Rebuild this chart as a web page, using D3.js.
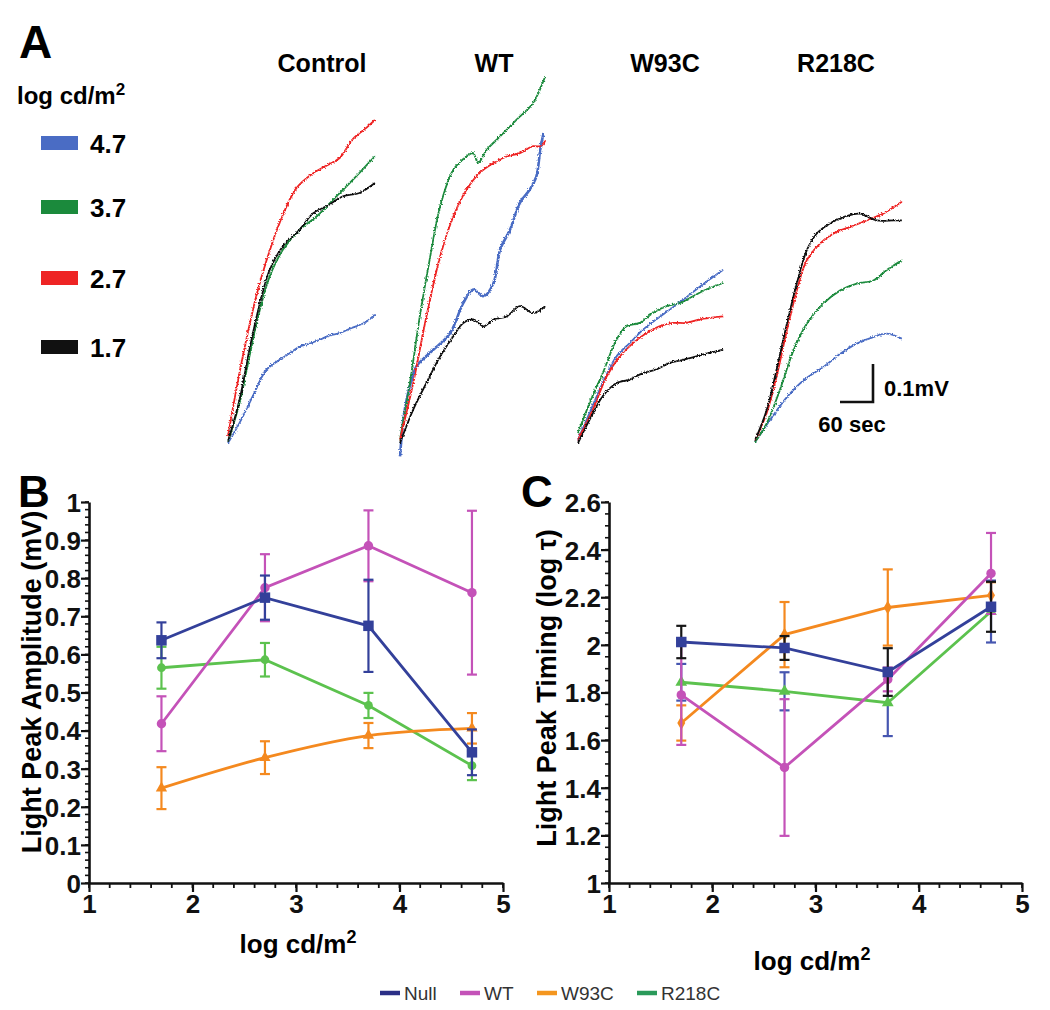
<!DOCTYPE html>
<html><head><meta charset="utf-8">
<script src="https://cdn.jsdelivr.net/npm/d3@7"></script>
<style>
html,body{margin:0;padding:0;background:#fff;}
text{font-family:"Liberation Sans",Arial,Helvetica,sans-serif;}
</style></head>
<body>
<svg id="fig" width="1050" height="1010"></svg>
<script>
// ---------------- DATA ----------------
// Panel A traces: [time (s), amplitude (mV)]
const traceGroups = ["Control", "WT", "W93C", "R218C"];
const intensities = ["4.7", "3.7", "2.7", "1.7"];
const intensityColors = ["#4a6cc4", "#1b8a3c", "#ee2424", "#111111"];

const ctrl47 = [[0,0],[21,.053],[45,.123],[70,.193],[94,.219],[112,.236],[130,.254],[150,.262],[167,.272],[185,.283],[203,.289],[220,.300],[233,.307],[250,.318],[267,.338]];
const ctrl37 = [[0,.004],[21,.105],[39,.228],[58,.351],[76,.439],[100,.509],[130,.561],[161,.596],[191,.640],[215,.675],[239,.711],[267,.754]];
const ctrl27 = [[0,.018],[15,.14],[33,.27],[52,.39],[70,.48],[94,.58],[124,.67],[155,.71],[179,.73],[203,.75],[227,.80],[252,.83],[267,.85]];
const ctrl17 = [[0,.004],[21,.114],[39,.246],[58,.368],[76,.456],[100,.518],[130,.561],[155,.605],[179,.623],[209,.649],[239,.658],[267,.684]];

const wt47 = [[0,-.035],[6,.06],[12,.114],[30,.202],[45,.225],[61,.246],[91,.289],[115,.368],[133,.404],[152,.386],[170,.421],[182,.509],[200,.561],[218,.632],[236,.667],[248,.702],[255,.772],[261,.816]];
const wt37 = [[0,.009],[18,.158],[36,.333],[55,.491],[73,.623],[97,.719],[121,.754],[133,.763],[142,.737],[158,.772],[182,.807],[212,.851],[242,.895],[264,.965]];
const wt27 = [[0,.009],[24,.158],[48,.333],[73,.491],[97,.596],[121,.667],[145,.711],[170,.737],[194,.754],[218,.763],[242,.781],[256,.781],[264,.795]];
const wt17 = [[0,0],[24,.088],[48,.158],[73,.228],[97,.281],[115,.316],[133,.325],[152,.307],[170,.325],[194,.333],[218,.360],[242,.342],[264,.360]];

const w93c47 = [[0,.009],[21,.079],[45,.158],[70,.228],[94,.263],[118,.298],[142,.325],[167,.351],[191,.377],[215,.404],[239,.430],[264,.456]];
const w93c37 = [[0,.026],[21,.105],[45,.184],[70,.272],[88,.307],[112,.316],[136,.342],[161,.360],[185,.368],[209,.386],[233,.404],[264,.421]];
const w93c27 = [[0,.009],[27,.088],[52,.175],[76,.228],[100,.263],[124,.289],[148,.307],[173,.316],[197,.316],[221,.325],[264,.333]];
const w93c17 = [[0,0],[21,.061],[45,.123],[70,.158],[94,.167],[118,.184],[142,.193],[167,.211],[191,.219],[215,.228],[239,.237],[264,.246]];

const r218c47 = [[0,0],[27,.057],[58,.118],[88,.162],[124,.197],[155,.232],[185,.259],[215,.276],[239,.285],[267,.272]];
const r218c37 = [[0,0],[21,.048],[45,.136],[70,.241],[94,.311],[124,.364],[155,.399],[185,.417],[215,.425],[239,.452],[267,.478]];
const r218c27 = [[0,.004],[21,.075],[39,.171],[58,.294],[76,.399],[94,.478],[118,.522],[142,.548],[173,.566],[203,.583],[233,.601],[252,.618],[267,.632]];
const r218c17 = [[0,.004],[21,.083],[39,.189],[58,.311],[76,.417],[94,.504],[112,.548],[136,.575],[161,.592],[191,.601],[221,.583],[252,.583],[267,.583]];

const traces = [
  [ctrl47, ctrl37, ctrl27, ctrl17],
  [wt47, wt37, wt27, wt17],
  [w93c47, w93c37, w93c27, w93c17],
  [r218c47, r218c37, r218c27, r218c17]
];

// Panels B & C
const lux = [1.7, 2.7, 3.7, 4.7];
const genotypes = ["Null", "WT", "W93C", "R218C"];
const genoColors = ["#33409a", "#c452b8", "#f4891f", "#5cc24e"];
const legendColors = ["#2b2f86", "#c452b8", "#f4961f", "#2a9a5a"];

const ampNull = [0.637, 0.749, 0.675, 0.343];
const ampNullErr = [0.047, 0.058, 0.121, 0.060];
const ampWT = [0.418, 0.775, 0.885, 0.762];
const ampWTErr = [0.072, 0.088, 0.093, 0.215];
const ampW93C = [0.249, 0.329, 0.387, 0.406];
const ampW93CErr = [0.055, 0.043, 0.033, 0.040];
const ampR218C = [0.565, 0.586, 0.466, 0.308];
const ampR218CErr = [0.055, 0.044, 0.033, 0.038];

const tauNull = [2.012, 1.987, 1.886, 2.160];
const tauNullErr = [0.068, 0.050, 0.100, 0.105];
const tauWT = [1.790, 1.485, 1.855, 2.300];
const tauWTErr = [0.210, 0.287, 0.050, 0.170];
const tauW93C = [1.672, 2.043, 2.157, 2.208];
const tauW93CErr = [0.074, 0.137, 0.160, 0.055];
const tauR218C = [1.843, 1.805, 1.757, 2.140];
const tauR218CErr = [0.077, 0.080, 0.140, 0.130];

const ampTicks = ["0","0.1","0.2","0.3","0.4","0.5","0.6","0.7","0.8","0.9","1"];
const tauTicks = ["1","1.2","1.4","1.6","1.8","2","2.2","2.4","2.6"];
const xTicks = ["1","2","3","4","5"];

// ---------------- DRAW ----------------
const svg = d3.select("#fig");
const defs = svg.append("defs");
const flt = defs.append("filter").attr("id","jit").attr("x","-5%").attr("y","-5%").attr("width","110%").attr("height","110%");
flt.append("feTurbulence").attr("type","fractalNoise").attr("baseFrequency","0.7").attr("numOctaves",1).attr("seed",3).attr("result","n");
flt.append("feDisplacementMap").attr("in","SourceGraphic").attr("in2","n").attr("scale",3.5).attr("xChannelSelector","R").attr("yChannelSelector","G");

// Panel A
svg.append("text").attr("x",19).attr("y",58).attr("font-size",46).attr("font-weight","bold").text("A");
const lt = svg.append("text").attr("x",17).attr("y",104).attr("font-size",24).attr("font-weight","bold");
lt.append("tspan").text("log cd/m");
lt.append("tspan").attr("dy",-9).attr("font-size",17).text("2");
const swY = [143, 207, 278, 347];
intensities.forEach((lab,i)=>{
  svg.append("rect").attr("x",41).attr("y",swY[i]-7).attr("width",37).attr("height",14).attr("fill",intensityColors[i]);
  svg.append("text").attr("x",90).attr("y",swY[i]+10).attr("font-size",26).attr("font-weight","bold").text(lab);
});

const groupX0 = [228, 400, 578, 755];
const groupBase = [443, 443, 443, 442];
const titleX = [322, 494, 665, 836];
const tScale = d3.scaleLinear().domain([0,270]).range([0,148.5]);
const vScale = d3.scaleLinear().domain([0,1]).range([0,-380]);
const traceLine = d3.line().x(d=>tScale(d[0])).y(d=>vScale(d[1])).curve(d3.curveCatmullRom.alpha(0.5));
traceGroups.forEach((g,gi)=>{
  svg.append("text").attr("x",titleX[gi]).attr("y",72).attr("text-anchor","middle").attr("font-size",25).attr("font-weight","bold").text(g);
  const gg = svg.append("g").attr("transform",`translate(${groupX0[gi]},${groupBase[gi]})`).attr("filter","url(#jit)");
  [0,1,2,3].forEach(k=>{
    gg.append("path").attr("d",traceLine(traces[gi][k])).attr("fill","none")
      .attr("stroke",intensityColors[k]).attr("stroke-width", gi===1 && k===0 ? 2.6 : 1.8)
      .attr("stroke-linejoin","round");
  });
});
// scale bar
const sbV = d3.scaleLinear().domain([0,0.1]).range([402,364]);
const sbT = d3.scaleLinear().domain([0,60]).range([873,840]);
svg.append("path").attr("d",`M${sbT(60)},${sbV(0)}H${sbT(0)}V${sbV(0.1)}`).attr("fill","none").attr("stroke","#111").attr("stroke-width",2.6);
svg.append("text").attr("x",884).attr("y",396).attr("font-size",22).attr("font-weight","bold").text("0.1mV");
svg.append("text").attr("x",852).attr("y",432).attr("text-anchor","middle").attr("font-size",22).attr("font-weight","bold").text("60 sec");

// Generic XY panel
function panel(opt){
  const x = d3.scaleLinear().domain([1,5]).range(opt.xr);
  const y = d3.scaleLinear().domain(opt.yd).range([883,502]);
  const g = svg.append("g");
  const yMinor = d3.range(opt.yd[0], opt.yd[1]+1e-9, opt.yMinorStep);
  g.selectAll(".ym").data(yMinor).join("line")
    .attr("x1",opt.xr[0]).attr("x2",opt.xr[0]-4).attr("y1",d=>y(d)).attr("y2",d=>y(d)).attr("stroke","#111").attr("stroke-width",1.6);
  const xMinor = d3.range(1,5.0001,0.2);
  g.selectAll(".xm").data(xMinor).join("line")
    .attr("y1",883).attr("y2",888).attr("x1",d=>x(d)).attr("x2",d=>x(d)).attr("stroke","#111").attr("stroke-width",1.8);
  const ya = d3.axisLeft(y).tickValues(opt.yTicks.map(Number)).tickFormat((d,i)=>opt.yTicks[i]).tickSize(8).tickSizeOuter(0);
  const yg = g.append("g").attr("transform",`translate(${opt.xr[0]},0)`).call(ya);
  const xa = d3.axisBottom(x).tickValues(xTicks.map(Number)).tickFormat((d,i)=>xTicks[i]).tickSize(9).tickSizeOuter(0);
  const xg = g.append("g").attr("transform",`translate(0,883)`).call(xa);
  [yg,xg].forEach(a=>{
    a.select(".domain").attr("stroke","#111").attr("stroke-width",2.6);
    a.selectAll(".tick line").attr("stroke","#111").attr("stroke-width",2.2);
    a.selectAll(".tick text").attr("font-family",'"Liberation Sans",Arial,sans-serif').attr("font-size",26).attr("font-weight","bold").attr("fill","#111");
  });
  yg.selectAll(".tick text").attr("x",-8).attr("dy","0.36em");
  xg.selectAll(".tick text").attr("y",12).attr("dy","0.71em");
  svg.append("text").attr("transform",`translate(${opt.ylx},${opt.yly}) rotate(-90)`).attr("text-anchor","middle")
    .attr("font-size",27).attr("font-weight","bold").text(opt.ylabel);
  const xl = svg.append("text").attr("x",opt.xlx).attr("y",opt.xly).attr("text-anchor","middle").attr("font-size",26).attr("font-weight","bold");
  xl.append("tspan").text("log cd/m");
  xl.append("tspan").attr("dy",-10).attr("font-size",18).text("2");
  opt.order.forEach(si=>{
    const s = opt.series[si];
    const pts = lux.map((l,i)=>({x:l, y:s.v[i], e:s.e[i]}));
    const sg = svg.append("g");
    pts.forEach(p=>{
      const cx = x(p.x);
      sg.append("line").attr("x1",cx).attr("x2",cx).attr("y1",y(p.y-p.e)).attr("y2",y(p.y+p.e)).attr("stroke",s.ec).attr("stroke-width",2.2);
      [p.y-p.e, p.y+p.e].forEach(v=>sg.append("line").attr("x1",cx-5).attr("x2",cx+5).attr("y1",y(v)).attr("y2",y(v)).attr("stroke",s.ec).attr("stroke-width",2.2));
    });
    const ln = d3.line().x(d=>x(d.x)).y(d=>y(d.y)).curve(s.smooth ? d3.curveMonotoneX : d3.curveLinear);
    sg.append("path").attr("d",ln(pts)).attr("fill","none").attr("stroke",s.c).attr("stroke-width",2.8);
    const sym = d3.symbol().type(s.shape).size(s.size);
    sg.selectAll(".m").data(pts).join("path").attr("d",sym).attr("transform",d=>`translate(${x(d.x)},${y(d.y)})`).attr("fill",s.c);
  });
}

svg.append("text").attr("x",18).attr("y",507).attr("font-size",44).attr("font-weight","bold").text("B");
svg.append("text").attr("x",521).attr("y",507).attr("font-size",44).attr("font-weight","bold").text("C");

panel({
  xr:[89,503], yd:[0,1], yTicks:ampTicks, yMinorStep:0.02,
  ylabel:"Light Peak Amplitude (mV)", ylx:41, yly:682, xlx:298, xly:953,
  order:[3,2,1,0],
  series:[
    {v:ampNull, e:ampNullErr, c:genoColors[0], ec:genoColors[0], shape:d3.symbolSquare, size:110},
    {v:ampWT, e:ampWTErr, c:genoColors[1], ec:genoColors[1], shape:d3.symbolCircle, size:70},
    {v:ampW93C, e:ampW93CErr, c:genoColors[2], ec:genoColors[2], shape:d3.symbolTriangle, size:55, smooth:true},
    {v:ampR218C, e:ampR218CErr, c:genoColors[3], ec:genoColors[3], shape:d3.symbolCircle, size:60}
  ]
});
panel({
  xr:[609,1022], yd:[1,2.6], yTicks:tauTicks, yMinorStep:0.05,
  ylabel:"Light Peak Timing (log \u03C4)", ylx:556, yly:688, xlx:812, xly:970,
  order:[3,2,1,0],
  series:[
    {v:tauNull, e:tauNullErr, c:genoColors[0], ec:"#161616", shape:d3.symbolSquare, size:110},
    {v:tauWT, e:tauWTErr, c:genoColors[1], ec:genoColors[1], shape:d3.symbolCircle, size:70},
    {v:tauW93C, e:tauW93CErr, c:genoColors[2], ec:genoColors[2], shape:d3.symbolDiamond, size:55},
    {v:tauR218C, e:tauR218CErr, c:genoColors[3], ec:"#4656b0", shape:d3.symbolTriangle, size:60}
  ]
});

// bottom legend
const legX = [380, 460, 537, 637];
genotypes.forEach((gname,i)=>{
  svg.append("line").attr("x1",legX[i]).attr("x2",legX[i]+20).attr("y1",993).attr("y2",993).attr("stroke",legendColors[i]).attr("stroke-width",4.5);
  svg.append("text").attr("x",legX[i]+24).attr("y",1000).attr("font-size",19).attr("fill","#333").text(gname);
});
</script>
</body></html>
